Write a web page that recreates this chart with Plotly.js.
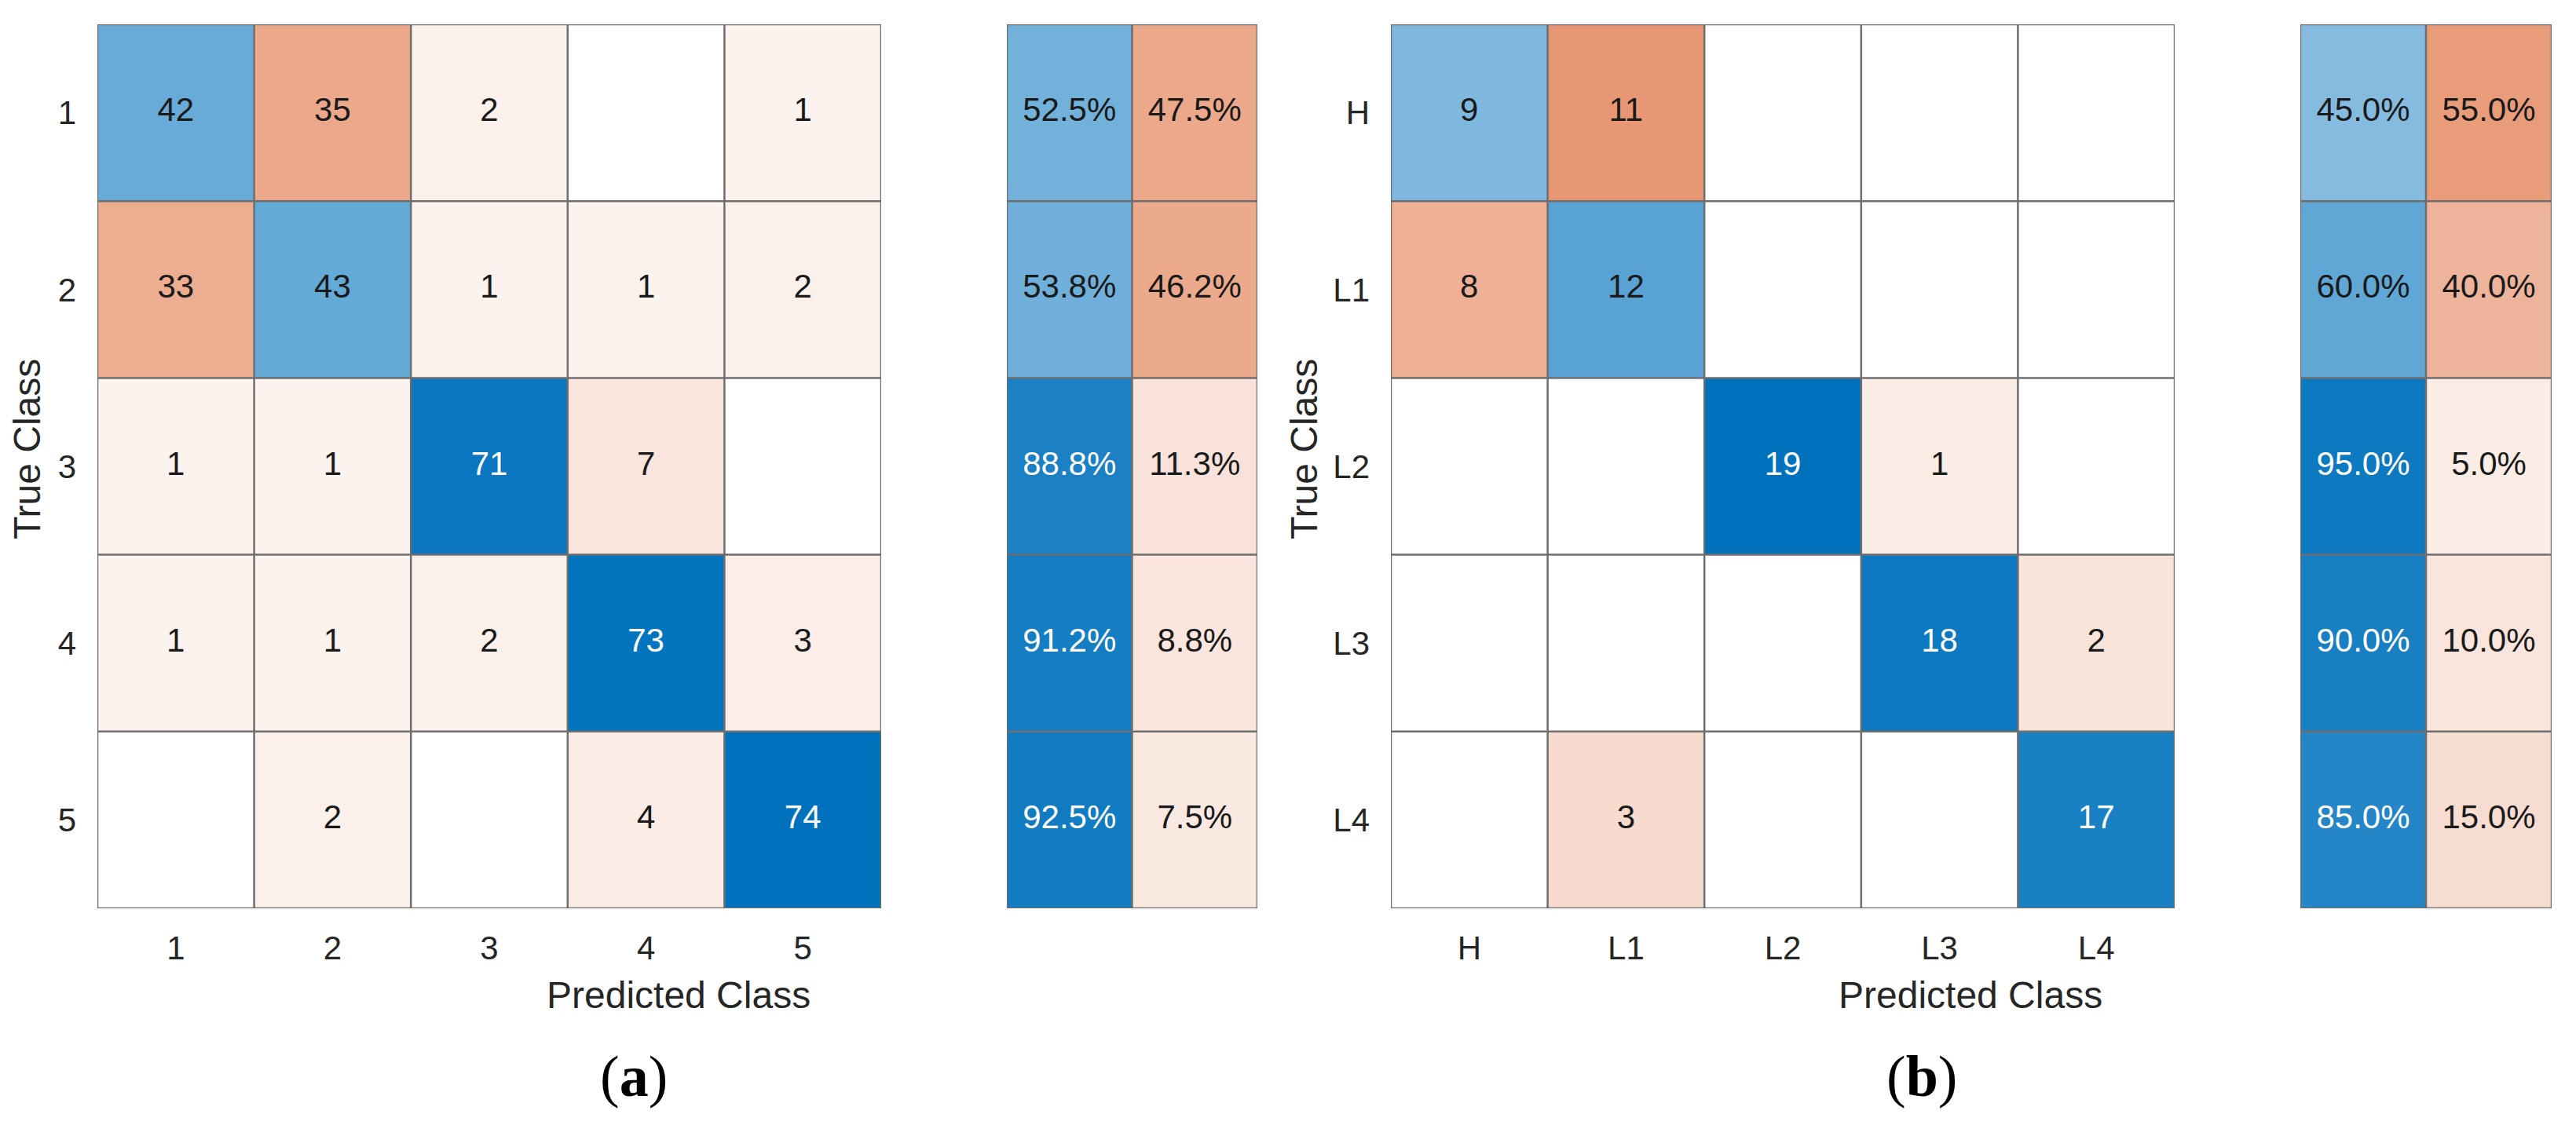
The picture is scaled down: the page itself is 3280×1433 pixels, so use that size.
<!DOCTYPE html>
<html>
<head>
<meta charset="utf-8">
<script src="https://cdn.plot.ly/plotly-3.0.1.min.js"></script>
<style>html,body{margin:0;padding:0;background:#fff;}</style>
</head>
<body>
<div id="chart" style="width:3280px;height:1433px;"></div>
<script>
// ---------- data ----------
const classesA = ['1', '2', '3', '4', '5'];
const countsA = [
  [42, 35, 2, 0, 1],
  [33, 43, 1, 1, 2],
  [1, 1, 71, 7, 0],
  [1, 1, 2, 73, 3],
  [0, 2, 0, 4, 74]
];
const pctCorrectA = [52.5, 53.8, 88.8, 91.2, 92.5];
const pctWrongA = [47.5, 46.2, 11.3, 8.8, 7.5];

const classesB = ['H', 'L1', 'L2', 'L3', 'L4'];
const countsB = [
  [9, 11, 0, 0, 0],
  [8, 12, 0, 0, 0],
  [0, 0, 19, 1, 0],
  [0, 0, 0, 18, 2],
  [0, 3, 0, 0, 17]
];
const pctCorrectB = [45.0, 60.0, 95.0, 90.0, 85.0];
const pctWrongB = [55.0, 40.0, 5.0, 10.0, 15.0];

const xLabel = 'Predicted Class';
const yLabel = 'True Class';
const panelLabels = ['a', 'b'];

// ---------- styling ----------
const W = 3280, H = 1433;
const FONT = 'Liberation Sans, Arial, sans-serif';
const TXT = '#262626';
const GRID = '#6e6e6e';
const colorscale = [[0, '#D95319'], [0.5, '#FFFFFF'], [1, '#0072BD']];

function intensity(v, max) { return v > 0 ? 0.06 + 0.94 * v / max : null; }
function px(x) { return x / W; }
function py(y) { return 1 - y / H; }

const traces = [];
const shapes = [];
const annotations = [];
const layout = {
  width: W, height: H, autosize: false,
  margin: {l: 0, r: 0, t: 0, b: 0, pad: 0},
  paper_bgcolor: '#ffffff', plot_bgcolor: '#ffffff',
  showlegend: false,
  font: {family: FONT, color: TXT, size: 42}
};

function gridShapes(xr, yr, nx, ny) {
  for (let i = 0; i <= nx; i++) {
    shapes.push({type: 'line', xref: xr, yref: yr, x0: i - 0.5, x1: i - 0.5, y0: -0.5, y1: ny - 0.5,
      line: {color: GRID, width: 2.5}, layer: 'above'});
  }
  for (let j = 0; j <= ny; j++) {
    shapes.push({type: 'line', xref: xr, yref: yr, x0: -0.5, x1: nx - 0.5, y0: j - 0.5, y1: j - 0.5,
      line: {color: GRID, width: 2.5}, layer: 'above'});
  }
}

// pixel placement of each panel's pieces
const placement = [
  {mat: [124, 1122], pct: [1282, 1601], yTitleX: 34, xTitleX: 864, tagX: 807},
  {mat: [1771, 2769], pct: [2929, 3249], yTitleX: 1660, xTitleX: 2509, tagX: 2447}
];

function addPanel(idx, classes, counts, pc, pw) {
  const P = placement[idx];
  const n = classes.length;
  const maxV = Math.max(...counts.flat());
  const num = idx * 2 + 1;
  const xm = num === 1 ? 'x' : 'x' + num, ym = num === 1 ? 'y' : 'y' + num;
  const xp = 'x' + (num + 1), yp = 'y' + (num + 1);
  const idxs = classes.map((_, i) => i);

  // confusion matrix heatmap
  const z = counts.map((row, i) => row.map((v, j) => {
    const a = intensity(v, maxV);
    return a === null ? null : (i === j ? a : -a);
  }));
  traces.push({type: 'heatmap', x: idxs, y: idxs, z: z, xaxis: xm, yaxis: ym,
    colorscale: colorscale, zmin: -1, zmax: 1, showscale: false, hoverinfo: 'skip'});

  // cell texts
  const tx = [], ty = [], tt = [], tc = [];
  counts.forEach((row, i) => row.forEach((v, j) => {
    if (v > 0) {
      tx.push(j); ty.push(i); tt.push(String(v));
      tc.push(intensity(v, maxV) > 0.7 ? '#ffffff' : '#1a1a1a');
    }
  }));
  traces.push({type: 'scatter', mode: 'text', x: tx, y: ty, text: tt, xaxis: xm, yaxis: ym,
    textfont: {family: FONT, size: 42, color: tc}, hoverinfo: 'skip', cliponaxis: false});

  // row summary heatmap
  const zp = pc.map((c, i) => [intensity(c, 100), -intensity(pw[i], 100)]);
  traces.push({type: 'heatmap', x: [0, 1], y: idxs, z: zp, xaxis: xp, yaxis: yp,
    colorscale: colorscale, zmin: -1, zmax: 1, showscale: false, hoverinfo: 'skip'});
  const sx = [], sy = [], st = [], scol = [];
  pc.forEach((c, i) => {
    sx.push(0); sy.push(i); st.push(c.toFixed(1) + '%');
    scol.push(intensity(c, 100) > 0.7 ? '#ffffff' : '#1a1a1a');
    sx.push(1); sy.push(i); st.push(pw[i].toFixed(1) + '%');
    scol.push(intensity(pw[i], 100) > 0.7 ? '#ffffff' : '#1a1a1a');
  });
  traces.push({type: 'scatter', mode: 'text', x: sx, y: sy, text: st, xaxis: xp, yaxis: yp,
    textfont: {family: FONT, size: 42, color: scol}, hoverinfo: 'skip', cliponaxis: false});

  // axes
  const yDom = [py(1157), py(31)];
  const keyXm = 'xaxis' + (num === 1 ? '' : num);
  const keyYm = 'yaxis' + (num === 1 ? '' : num);
  const keyXp = 'xaxis' + (num + 1), keyYp = 'yaxis' + (num + 1);
  layout[keyXm] = {domain: [px(P.mat[0]), px(P.mat[1])], anchor: ym, range: [-0.5, n - 0.5],
    tickvals: idxs, ticktext: classes, ticks: '', showgrid: false, zeroline: false, showline: false,
    tickfont: {family: FONT, size: 42, color: TXT}, ticklabelstandoff: 22, fixedrange: true};
  layout[keyYm] = {domain: yDom, anchor: xm, range: [n - 0.5, -0.5],
    tickvals: idxs, ticktext: classes, ticks: '', showgrid: false, zeroline: false, showline: false,
    tickfont: {family: FONT, size: 42, color: TXT}, ticklabelstandoff: 26, fixedrange: true};
  layout[keyXp] = {domain: [px(P.pct[0]), px(P.pct[1])], anchor: yp, range: [-0.5, 1.5],
    showticklabels: false, ticks: '', showgrid: false, zeroline: false, showline: false, fixedrange: true};
  layout[keyYp] = {domain: yDom, anchor: xp, range: [n - 0.5, -0.5],
    showticklabels: false, ticks: '', showgrid: false, zeroline: false, showline: false, fixedrange: true};

  gridShapes(xm, ym, n, n);
  gridShapes(xp, yp, 2, n);

  annotations.push({xref: 'paper', yref: 'paper', x: px(P.yTitleX), y: py(572), text: yLabel,
    textangle: -90, showarrow: false, xanchor: 'center', yanchor: 'middle',
    font: {family: FONT, size: 48, color: TXT}});
  annotations.push({xref: 'paper', yref: 'paper', x: px(P.xTitleX), y: py(1267), text: xLabel,
    showarrow: false, xanchor: 'center', yanchor: 'middle',
    font: {family: FONT, size: 48, color: TXT}});
  annotations.push({xref: 'paper', yref: 'paper', x: px(P.tagX), y: py(1371),
    text: '(<b>' + panelLabels[idx] + '</b>)',
    showarrow: false, xanchor: 'center', yanchor: 'middle',
    font: {family: 'Liberation Serif, Times New Roman, serif', size: 74, color: '#000000'}});
}

addPanel(0, classesA, countsA, pctCorrectA, pctWrongA);
addPanel(1, classesB, countsB, pctCorrectB, pctWrongB);

layout.shapes = shapes;
layout.annotations = annotations;

Plotly.newPlot('chart', traces, layout, {staticPlot: true, displayModeBar: false});
</script>
</body>
</html>
